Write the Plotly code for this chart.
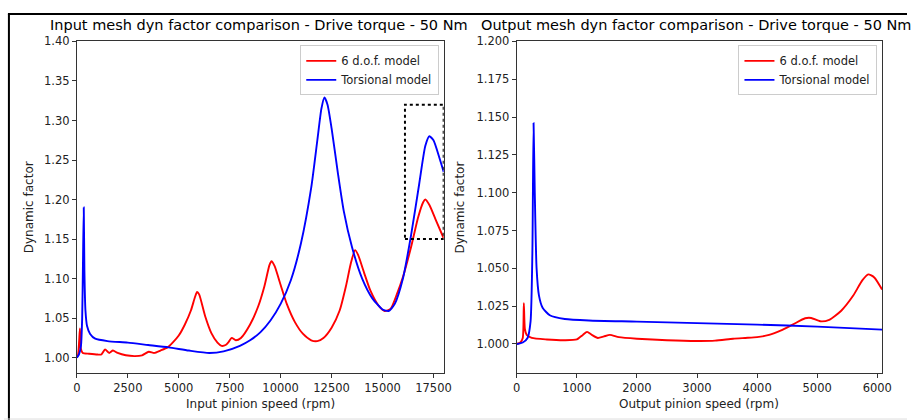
import plotly.graph_objects as go

# ---------------- data ----------------
# Left panel: input mesh (x = input pinion speed, rpm)
in_dof_x = [0, 60, 110, 150, 190, 290, 600, 1015, 1200, 1385, 1580, 1770, 2000, 2400, 2850, 3200,
            3530, 3800, 4100, 4450, 4700, 5000, 5300, 5600, 5800, 5900, 6000, 6300, 6600, 6900,
            7100, 7300, 7450, 7600, 7800, 8050, 8500, 8900, 9200, 9450, 9550, 9700, 10000, 10300,
            10700, 11100, 11500, 11800, 12100, 12500, 12900, 13200, 13450, 13650, 13800, 14100,
            14400, 14800, 15100, 15400, 15700, 16000, 16400, 16750, 17000, 17100, 17300, 17600, 18000]
in_dof_y = [1.000, 1.004, 1.020, 1.037, 1.012, 1.006, 1.005, 1.004, 1.004, 1.0105, 1.006, 1.009, 1.006,
            1.003, 1.002, 1.003, 1.0075, 1.006, 1.009, 1.013, 1.019, 1.028, 1.042, 1.060, 1.077, 1.083,
            1.080, 1.052, 1.031, 1.019, 1.015, 1.016, 1.020, 1.025, 1.022, 1.025, 1.042, 1.065, 1.090,
            1.117, 1.122, 1.116, 1.092, 1.068, 1.045, 1.030, 1.022, 1.021, 1.025, 1.038, 1.060, 1.090,
            1.120, 1.136, 1.130, 1.107, 1.085, 1.066, 1.059, 1.062, 1.080, 1.102, 1.140, 1.178, 1.197,
            1.200, 1.193, 1.175, 1.151]

in_tor_x = [0, 100, 200, 260, 300, 338, 370, 420, 500, 650, 900, 1500, 2500, 3500, 4500, 5500,
            6500, 7200, 8000, 8500, 9000, 9500, 10000, 10500, 11000, 11500, 11800, 12000, 12150,
            12300, 12500, 12800, 13100, 13500, 14000, 14500, 15000, 15300, 15600, 16000, 16400,
            16800, 17100, 17300, 17500, 17800, 18000]
in_tor_y = [1.000, 1.004, 1.015, 1.050, 1.120, 1.190, 1.110, 1.060, 1.040, 1.030, 1.024, 1.021,
            1.019, 1.016, 1.013, 1.009, 1.006, 1.008, 1.015, 1.022, 1.032, 1.047, 1.068, 1.098,
            1.145, 1.215, 1.275, 1.315, 1.329, 1.320, 1.290, 1.235, 1.185, 1.140, 1.100, 1.075,
            1.061, 1.059, 1.068, 1.100, 1.155, 1.220, 1.268, 1.280, 1.275, 1.252, 1.235]

# Right panel: output mesh (x = output pinion speed, rpm)
out_dof_x = [0, 60, 100, 118, 135, 165, 250, 500, 800, 1000, 1100, 1170, 1250, 1350, 1450, 1550,
             1700, 2000, 2500, 3000, 3300, 3600, 3800, 4000, 4200, 4400, 4600, 4800, 4900, 5050,
             5200, 5400, 5600, 5750, 5850, 5950, 6080]
out_dof_y = [1.000, 1.001, 1.004, 1.027, 1.010, 1.006, 1.004, 1.003, 1.0025, 1.003, 1.006, 1.008,
             1.006, 1.004, 1.005, 1.006, 1.0045, 1.0035, 1.0025, 1.002, 1.0022, 1.0035, 1.004,
             1.0045, 1.006, 1.009, 1.013, 1.017, 1.0172, 1.015, 1.016, 1.022, 1.032, 1.042, 1.046,
             1.044, 1.036]

out_tor_x = [0, 100, 180, 230, 260, 280, 300, 330, 370, 430, 550, 800, 1200, 2000, 3000, 4000,
             5000, 6080]
out_tor_y = [1.000, 1.001, 1.004, 1.015, 1.060, 1.146, 1.100, 1.050, 1.032, 1.024, 1.019, 1.0165,
             1.0155, 1.0148, 1.0138, 1.0128, 1.0115, 1.0095]

series_names = ["6 d.o.f. model", "Torsional model"]
titles = ["Input mesh dyn factor comparison - Drive torque - 50 Nm",
          "Output mesh dyn factor comparison - Drive torque - 50 Nm"]
x_titles = ["Input pinion speed (rpm)", "Output pinion speed (rpm)"]
y_title = "Dynamic factor"
zoom_box = [16100, 18000, 1.15, 1.32]   # dotted highlight box (x0, x1, y0, y1)

# ---------------- figure ----------------
W, H = 917, 420
FONT = "DejaVu Sans"
TXT = "#222222"

def px(x):
    return x / W

def py(y):
    return (H - y) / H

line_kw = dict(shape="spline", smoothing=0.6, width=1.9)

fig = go.Figure()
fig.add_trace(go.Scatter(x=in_dof_x, y=in_dof_y, mode="lines", name=series_names[0],
                         line=dict(color="#ff0000", **line_kw), xaxis="x", yaxis="y",
                         legend="legend"))
fig.add_trace(go.Scatter(x=in_tor_x, y=in_tor_y, mode="lines", name=series_names[1],
                         line=dict(color="#0000ff", **line_kw), xaxis="x", yaxis="y",
                         legend="legend"))
fig.add_trace(go.Scatter(x=out_dof_x, y=out_dof_y, mode="lines", name=series_names[0],
                         line=dict(color="#ff0000", **line_kw), xaxis="x2", yaxis="y2",
                         legend="legend2"))
fig.add_trace(go.Scatter(x=out_tor_x, y=out_tor_y, mode="lines", name=series_names[1],
                         line=dict(color="#0000ff", **line_kw), xaxis="x2", yaxis="y2",
                         legend="legend2"))

ax_common = dict(showline=True, mirror=True, linecolor="#333333", linewidth=1,
                 showgrid=False, zeroline=False, ticks="outside", ticklen=4,
                 tickcolor="#333333", tickfont=dict(family=FONT, size=11.5, color=TXT))

ydom = [py(372.7), py(35)]
legend_common = dict(bgcolor="white", bordercolor="#cccccc", borderwidth=1,
                     font=dict(family=FONT, size=11.5, color=TXT),
                     xanchor="right", yanchor="top", tracegroupgap=0, itemwidth=30)

fig.update_layout(
    width=W, height=H, margin=dict(l=0, r=0, t=0, b=0),
    paper_bgcolor="white", plot_bgcolor="white",
    xaxis=dict(domain=[px(74), px(446.5)], range=[0, 18000], tickvals=list(range(0, 17501, 2500)),
               tickformat="d", anchor="y", **ax_common),
    yaxis=dict(domain=ydom, range=[0.98, 1.40], dtick=0.05, tick0=1.0, tickformat=".2f",
               anchor="x", **ax_common),
    xaxis2=dict(domain=[px(520.7), px(891.7)], range=[0, 6080], tickvals=list(range(0, 6001, 1000)),
                tickformat="d", anchor="y2", **ax_common),
    yaxis2=dict(domain=ydom, range=[0.9805, 1.20], dtick=0.025, tick0=1.0, tickformat=".3f",
                anchor="x2", **ax_common),
    legend=dict(x=px(442), y=py(39), **legend_common),
    legend2=dict(x=px(887), y=py(39), **legend_common),
    showlegend=True,
)

# dotted zoom box
fig.add_shape(type="rect", xref="x", yref="y", x0=zoom_box[0], x1=zoom_box[1],
              y0=zoom_box[2], y1=zoom_box[3], line=dict(color="black", width=2, dash="dot"))

# outer frame of the screenshot
fig.add_shape(type="line", xref="paper", yref="paper", x0=px(4), x1=1, y0=py(7), y1=py(7),
              line=dict(color="black", width=2))
fig.add_shape(type="line", xref="paper", yref="paper", x0=px(5), x1=px(5), y0=0, y1=py(7),
              line=dict(color="black", width=2))
fig.add_shape(type="line", xref="paper", yref="paper", x0=0, x1=1, y0=py(419), y1=py(419),
              line=dict(color="#dddddd", width=1))

# titles and axis labels
for xc, t in [(259, titles[0]), (703, titles[1])]:
    fig.add_annotation(xref="paper", yref="paper", x=px(xc), y=py(18), text=t,
                       showarrow=False, xanchor="center", yanchor="middle",
                       font=dict(family=FONT, size=14.5, color="black"))

for xc, t in [(260, x_titles[0]), (706, x_titles[1])]:
    fig.add_annotation(xref="paper", yref="paper", x=px(xc), y=py(404), text=t,
                       showarrow=False, xanchor="center", yanchor="middle",
                       font=dict(family=FONT, size=12, color=TXT))

for xc in [25, 463]:
    fig.add_annotation(xref="paper", yref="paper", x=px(xc), y=py(204), text=y_title,
                       showarrow=False, xanchor="center", yanchor="middle", textangle=-90,
                       font=dict(family=FONT, size=12, color=TXT))

fig.write_html("out.html")
